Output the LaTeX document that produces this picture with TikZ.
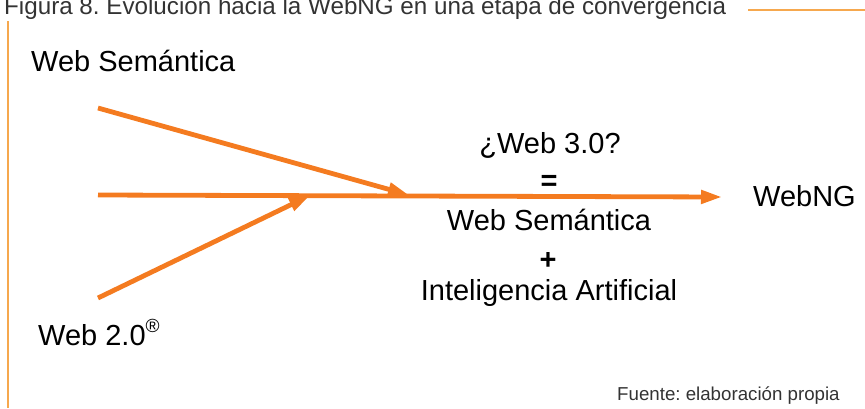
\documentclass[tikz,border=0pt]{standalone}
\usepackage{fontspec}
\setmainfont{Liberation Sans}
\usetikzlibrary{arrows.meta}
\definecolor{arr}{HTML}{F47B20}
\definecolor{rulec}{HTML}{F6A84E}
\definecolor{capc}{HTML}{333333}
\frenchspacing
\begin{document}
\begin{tikzpicture}[x=1pt,y=-1pt,
  txt/.style={inner sep=0pt, font=\fontsize{29}{34}\selectfont, text=black},
  titletxt/.style={inner sep=0pt, font=\fontsize{24.2}{28}\selectfont, text=capc},
  srctxt/.style={inner sep=0pt, font=\fontsize{18.7}{22}\selectfont, text=capc},
  rule/.style={draw=rulec, line width=1.4pt},
  flow/.style={draw=arr, line width=4.8pt, -{Triangle[length=21pt,width=13pt]}}]
\clip (0,0) rectangle (865,408);
% title and frame rules
\node[titletxt, anchor=base west] (title) at (4,14) {Figura 8. Evolución hacia la WebNG en una etapa de convergencia};
\coordinate (rA) at (748,10);
\coordinate (rB) at (865,10);
\coordinate (lA) at (8,21);
\coordinate (lB) at (8,408);
\draw[rule] (rA) -- (rB);
\draw[rule] (lA) -- (lB);
% labels
\node[txt, anchor=base west] (ws) at (31,71) {Web Semántica};
\node[txt, anchor=base west] (w2) at (38,345) {Web 2.0\raisebox{0.42em}{\fontsize{19}{19}\selectfont ®}};
\node[txt, anchor=base west] (ng) at (753,206) {WebNG};
\node[txt, anchor=base] (w3) at (550,153) {¿Web 3.0?};
\node[txt, anchor=base] (eq) at (549,190) {\bfseries =};
\node[txt, anchor=base] (ws2) at (549,230) {Web Semántica};
\node[txt, anchor=base] (pl) at (548,269) {\bfseries +};
\node[txt, anchor=base] (ia) at (549,300) {Inteligencia Artificial};
\node[srctxt, anchor=base west] (src) at (617,400) {Fuente: elaboración propia};
% arrows
\coordinate (sTop) at (98,108);
\coordinate (sMid) at (98,195);
\coordinate (sBot) at (98,298);
\coordinate (tTop) at (409,195);
\coordinate (tBot) at (310,195.5);
\coordinate (tMid) at (722,197);
\draw[flow] (sMid) -- (tMid);
\draw[flow] (sTop) -- (tTop);
\draw[flow] (sBot) -- (tBot);
\end{tikzpicture}
\end{document}
